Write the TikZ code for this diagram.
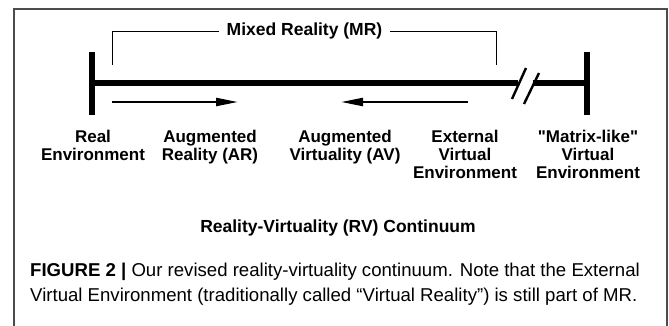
\documentclass[tikz,border=0pt]{standalone}
\usepackage{fontspec}
\setmainfont{Liberation Sans}[Ligatures=TeXOff]
\usetikzlibrary{arrows.meta}
\begin{document}
\begin{tikzpicture}[x=1pt,y=-1pt,
  lbl/.style={font=\fontsize{17}{18}\selectfont\bfseries, align=center, inner sep=0pt, anchor=north},
  bar/.style={line width=6pt},
  mainline/.style={line width=5.5pt},
  slash/.style={line width=2.4pt},
  bracket/.style={line width=0.9pt},
  dirarrow/.style={line width=2.3pt, -{Triangle[length=22pt,width=8pt]}},
  frame/.style={line width=1.3pt, draw=black!70}]
\useasboundingbox (0,0) rectangle (669,325);
\draw[frame] (14,330) -- (14,9) -- (667,9) -- (667,330);
% end bars
\coordinate (lt) at (92,52); \coordinate (lb) at (92,115);
\coordinate (rt) at (587,52); \coordinate (rb) at (587,115);
\draw[bar] (lt) -- (lb);
\draw[bar] (rt) -- (rb);
% main line with break
\coordinate (ml) at (92,83); \coordinate (mb1) at (518,83);
\coordinate (mb2) at (533,83); \coordinate (mr) at (587,83);
\draw[mainline] (ml) -- (mb1);
\draw[mainline] (mb2) -- (mr);
\coordinate (s1a) at (512,99); \coordinate (s1b) at (526,68);
\coordinate (s2a) at (524,104); \coordinate (s2b) at (539,73);
\draw[slash] (s1a) -- (s1b);
\draw[slash] (s2a) -- (s2b);
% MR bracket
\node[font=\fontsize{17.5}{18}\selectfont\bfseries, inner xsep=8pt, inner ysep=0pt] (mrl) at (304.5,31) {Mixed Reality (MR)};
\coordinate (bl) at (112,65); \coordinate (br) at (496,65);
\draw[bracket] (bl) -- (bl |- mrl.center) -- (mrl.west);
\draw[bracket] (mrl.east) -- (br |- mrl.center) -- (br);
% arrows
\coordinate (a1s) at (112,102); \coordinate (a1e) at (238,102);
\coordinate (a2s) at (468,102); \coordinate (a2e) at (341,102);
\draw[dirarrow] (a1s) -- (a1e);
\draw[dirarrow] (a2s) -- (a2e);
% labels
\node[lbl] (re) at (93,129.5) {Real\\Environment};
\node[lbl] (ar) at (210,129.5) {Augmented\\Reality (AR)};
\node[lbl] (av) at (345,129.5) {Augmented\\Virtuality (AV)};
\node[lbl] (ev) at (465,129.5) {External\\Virtual\\Environment};
\node[lbl] (mv) at (588,129.5) {"Matrix-like"\\Virtual\\Environment};
\node[lbl, anchor=center, font=\fontsize{17.5}{18}\selectfont\bfseries] (rv) at (338,228) {Reality-Virtuality (RV) Continuum};
% caption
\node[anchor=north west, inner sep=0pt, align=left, font=\fontsize{18.6}{25}\selectfont] (cap) at (30,263)
  {\textbf{FIGURE 2 |} Our revised reality-virtuality continuum. Note that the External\\
   Virtual Environment (traditionally called “Virtual Reality”) is still part of MR.};
\end{tikzpicture}
\end{document}
